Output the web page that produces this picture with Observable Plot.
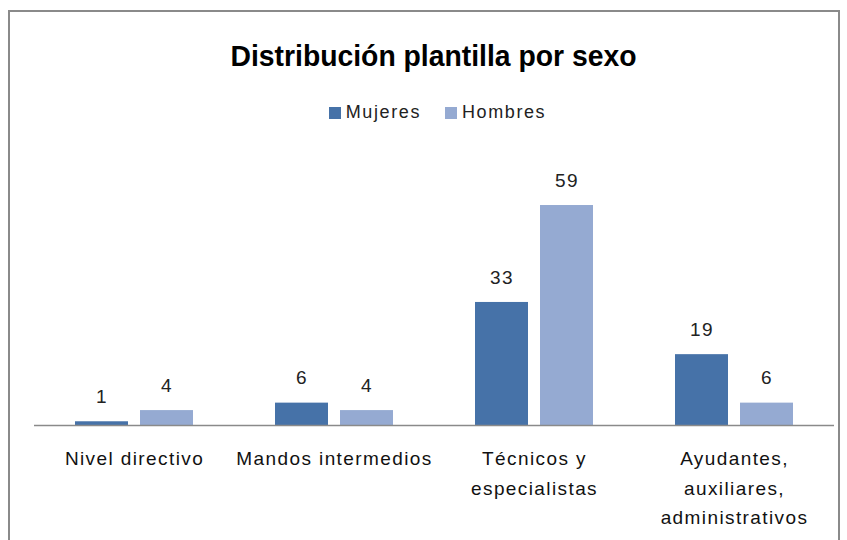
<!DOCTYPE html>
<html>
<head>
<meta charset="utf-8">
<script src="https://cdn.jsdelivr.net/npm/d3@7"></script>
<script src="https://cdn.jsdelivr.net/npm/@observablehq/plot@0.6"></script>
<style>
  html, body { margin: 0; padding: 0; background: #fff; }
  #wrap { position: relative; width: 847px; height: 540px; overflow: hidden; font-family: "Liberation Sans", Arial, sans-serif; }
  #frame { position: absolute; left: 8px; top: 10px; width: 832px; height: 600px; border: 2px solid #8a8a8a; box-sizing: border-box; }
  #title { position: absolute; left: 10px; width: 847px; top: 39px; text-align: center; font-weight: bold; font-size: 30px; color: #000; transform: scaleX(0.944); transform-origin: 423.5px 0; }
  #legend { position: absolute; top: 102px; left: 14px; width: 847px; text-align: center; font-size: 18px; letter-spacing: 1.6px; color: #222; }
  #legend span.sw { display: inline-block; width: 12px; height: 12px; margin-right: 5px; vertical-align: -1px; }
  #legend span.item { margin: 0 12px; }
  #chart { position: absolute; left: 0; top: 0; }
</style>
</head>
<body>
<div id="wrap">
  <div id="frame"></div>
  <div id="title">Distribución plantilla por sexo</div>
  <div id="legend"></div>
  <div id="chart"></div>
</div>
<script>
const categories = ["Nivel directivo", "Mandos intermedios", "Técnicos y especialistas", "Ayudantes, auxiliares, administrativos"];
const categoryLabels = ["Nivel directivo", "Mandos intermedios", "Técnicos y\nespecialistas", "Ayudantes,\nauxiliares,\nadministrativos"];
const series = ["Mujeres", "Hombres"];
const mujeres = [1, 6, 33, 19];
const hombres = [4, 4, 59, 6];
const colors = ["#4672A8", "#95AAD2"];

const rows = [];
categories.forEach((c, i) => {
  rows.push({categoria: c, sexo: series[0], valor: mujeres[i]});
  rows.push({categoria: c, sexo: series[1], valor: hombres[i]});
});
const labelRows = categories.map((c, i) => ({categoria: c, label: categoryLabels[i]}));

const legend = document.getElementById("legend");
legend.innerHTML = series.map((s, i) =>
  `<span class="item"><span class="sw" style="background:${colors[i]}"></span>${s}</span>`).join("");

const chart = Plot.plot({
  width: 847,
  height: 540,
  marginLeft: 34,
  marginRight: 13,
  marginTop: 164,
  marginBottom: 115,
  style: {background: "transparent", fontFamily: "'Liberation Sans', Arial, sans-serif", letterSpacing: "1.4px"},
  fx: {domain: categories, padding: 0, axis: null},
  x: {domain: series, paddingInner: 0.18, paddingOuter: 0.606, axis: null},
  y: {domain: [0, 70], axis: null},
  color: {domain: series, range: colors},
  marks: [
    Plot.barY(rows, {fx: "categoria", x: "sexo", y: "valor", fill: "sexo"}),
    Plot.ruleY([0], {stroke: "#8a8a8a", strokeWidth: 1.5}),
    Plot.text(rows, {fx: "categoria", x: "sexo", y: "valor", text: d => String(d.valor), dy: -25, fontSize: 19, fill: "#222"}),
    Plot.text(labelRows, {fx: "categoria", text: "label", frameAnchor: "bottom", lineAnchor: "top", dy: 19, fontSize: 19, lineHeight: 1.55, fill: "#111"})
  ]
});
document.getElementById("chart").appendChild(chart);
</script>
</body>
</html>
